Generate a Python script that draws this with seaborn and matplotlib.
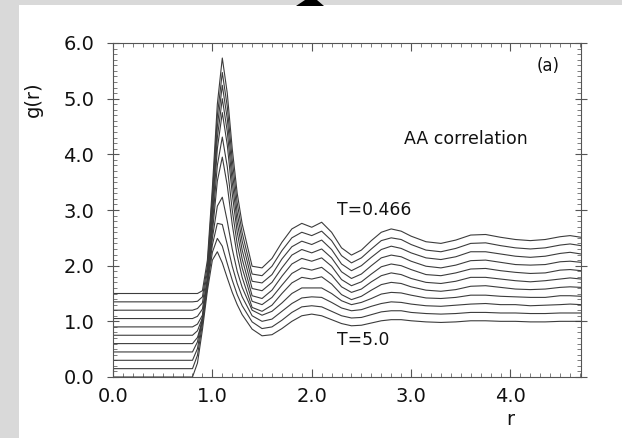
import numpy as np
import pandas as pd
import matplotlib
matplotlib.use("Agg")
import matplotlib.pyplot as plt
from matplotlib.patches import Rectangle, Polygon
from matplotlib.ticker import MultipleLocator
import seaborn as sns

# ---- data -------------------------------------------------------------
r = [0.0, 0.80, 0.85, 0.90, 0.95, 1.00, 1.05, 1.10, 1.15, 1.20, 1.25, 1.30,
     1.40, 1.50, 1.60, 1.70, 1.80, 1.90, 2.00, 2.10, 2.20, 2.30, 2.40, 2.50,
     2.60, 2.70, 2.80, 2.90, 3.00, 3.15, 3.30, 3.45, 3.60, 3.75, 3.90, 4.05,
     4.20, 4.35, 4.50, 4.60, 4.71]

temperatures = [5.0, 4.0, 3.0, 2.0, 1.0, 0.8, 0.6, 0.55, 0.5, 0.475, 0.466]
offsets = [0.0, 0.15, 0.30, 0.45, 0.60, 0.75, 0.90, 1.05, 1.20, 1.35, 1.50]

g_T5_0 = [0, 0.00, 0.25, 0.85, 1.55, 2.10, 2.25, 2.05, 1.78, 1.52, 1.30, 1.12,
          0.86, 0.74, 0.76, 0.87, 1.00, 1.10, 1.13, 1.10, 1.03, 0.96, 0.92, 0.93,
          0.97, 1.01, 1.03, 1.03, 1.01, 0.99, 0.98, 0.99, 1.01, 1.01, 1.00, 1.00,
          0.99, 0.99, 1.00, 1.00, 1.00]
g_T4_0 = [0, 0.00, 0.24, 0.80, 1.49, 2.09, 2.34, 2.20, 1.89, 1.59, 1.33, 1.13,
          0.84, 0.72, 0.75, 0.87, 1.01, 1.11, 1.13, 1.11, 1.03, 0.95, 0.91, 0.92,
          0.97, 1.02, 1.04, 1.04, 1.01, 0.99, 0.98, 0.99, 1.01, 1.01, 1.00, 1.00,
          0.99, 0.99, 1.00, 1.00, 1.00]
g_T3_0 = [0, 0.00, 0.21, 0.73, 1.41, 2.07, 2.46, 2.44, 2.08, 1.69, 1.38, 1.14,
          0.80, 0.70, 0.74, 0.88, 1.02, 1.12, 1.14, 1.13, 1.04, 0.94, 0.89, 0.91,
          0.97, 1.02, 1.05, 1.04, 1.01, 0.98, 0.97, 0.99, 1.01, 1.02, 1.00, 1.00,
          0.98, 0.99, 1.00, 1.01, 1.00]
g_T2_0 = [0, 0.00, 0.18, 0.62, 1.27, 2.04, 2.62, 2.78, 2.35, 1.85, 1.45, 1.16,
          0.75, 0.66, 0.73, 0.88, 1.05, 1.15, 1.15, 1.15, 1.05, 0.92, 0.85, 0.89,
          0.96, 1.04, 1.07, 1.06, 1.02, 0.97, 0.96, 0.98, 1.02, 1.02, 1.00, 0.99,
          0.98, 0.98, 1.01, 1.01, 1.00]
g_T1_0 = [0, 0.00, 0.11, 0.40, 1.02, 1.99, 2.92, 3.35, 2.84, 2.14, 1.58, 1.19,
          0.65, 0.58, 0.69, 0.90, 1.09, 1.19, 1.16, 1.20, 1.07, 0.88, 0.79, 0.85,
          0.96, 1.06, 1.10, 1.08, 1.02, 0.96, 0.94, 0.97, 1.03, 1.04, 1.01, 0.98,
          0.97, 0.98, 1.01, 1.02, 1.01]
g_T0_8 = [0, 0.00, 0.08, 0.31, 0.91, 1.97, 3.05, 3.56, 3.03, 2.25, 1.64, 1.21,
          0.61, 0.55, 0.68, 0.90, 1.11, 1.21, 1.17, 1.22, 1.08, 0.87, 0.77, 0.83,
          0.96, 1.07, 1.12, 1.09, 1.02, 0.95, 0.93, 0.97, 1.04, 1.04, 1.01, 0.98,
          0.96, 0.98, 1.01, 1.03, 1.01]
g_T0_6 = [0, 0.00, 0.05, 0.21, 0.79, 1.94, 3.20, 3.85, 3.27, 2.39, 1.70, 1.22,
          0.56, 0.51, 0.66, 0.91, 1.13, 1.23, 1.18, 1.24, 1.09, 0.85, 0.74, 0.81,
          0.95, 1.08, 1.13, 1.10, 1.03, 0.94, 0.92, 0.97, 1.04, 1.05, 1.01, 0.98,
          0.96, 0.97, 1.02, 1.03, 1.01]
g_T0_55 = [0, 0.00, 0.04, 0.17, 0.74, 1.93, 3.25, 3.95, 3.36, 2.45, 1.73, 1.23,
           0.54, 0.50, 0.65, 0.91, 1.14, 1.24, 1.18, 1.25, 1.09, 0.84, 0.72, 0.80,
           0.95, 1.09, 1.14, 1.11, 1.03, 0.94, 0.91, 0.96, 1.04, 1.05, 1.01, 0.97,
           0.96, 0.97, 1.02, 1.03, 1.01]
g_T0_5 = [0, 0.00, 0.03, 0.13, 0.70, 1.92, 3.30, 4.04, 3.44, 2.50, 1.75, 1.24,
          0.52, 0.49, 0.64, 0.92, 1.14, 1.24, 1.18, 1.26, 1.09, 0.83, 0.71, 0.80,
          0.95, 1.09, 1.15, 1.11, 1.03, 0.94, 0.91, 0.96, 1.05, 1.05, 1.01, 0.97,
          0.95, 0.97, 1.02, 1.04, 1.01]
g_T0_475 = [0, 0.00, 0.01, 0.09, 0.65, 1.91, 3.34, 4.12, 3.51, 2.55, 1.78, 1.24,
            0.50, 0.47, 0.64, 0.92, 1.15, 1.25, 1.19, 1.27, 1.10, 0.83, 0.70, 0.79,
            0.95, 1.10, 1.15, 1.12, 1.03, 0.93, 0.90, 0.96, 1.05, 1.06, 1.01, 0.97,
            0.95, 0.97, 1.02, 1.04, 1.01]
g_T0_466 = [0, 0.00, 0.00, 0.05, 0.60, 1.90, 3.40, 4.23, 3.60, 2.60, 1.80, 1.25,
            0.49, 0.46, 0.63, 0.92, 1.16, 1.26, 1.19, 1.28, 1.10, 0.82, 0.69, 0.78,
            0.95, 1.10, 1.16, 1.12, 1.03, 0.93, 0.90, 0.96, 1.05, 1.06, 1.01, 0.97,
            0.95, 0.97, 1.02, 1.04, 1.01]

curves = [g_T5_0, g_T4_0, g_T3_0, g_T2_0, g_T1_0, g_T0_8, g_T0_6, g_T0_55,
          g_T0_5, g_T0_475, g_T0_466]

x_ticks = [0.0, 1.0, 2.0, 3.0, 4.0]
x_ticklabels = ["0.0", "1.0", "2.0", "3.0", "4.0"]
y_ticks = [0.0, 1.0, 2.0, 3.0, 4.0, 5.0, 6.0]
y_ticklabels = ["0.0", "1.0", "2.0", "3.0", "4.0", "5.0", "6.0"]

rows = []
for T, off, g in zip(temperatures, offsets, curves):
    for rv, gv in zip(r, g):
        rows.append({"T": T, "r": rv, "y": gv + off})
df = pd.DataFrame(rows)

# ---- figure -----------------------------------------------------------
sns.set_style("ticks")
plt.rcParams["font.family"] = ["DejaVu Sans"]

fig = plt.figure(figsize=(6.22, 4.38), dpi=100)
fig.patch.set_facecolor("white")
ax = fig.add_axes([113 / 622, 1 - 377 / 438, 468 / 622, 334 / 438])

line_color = "#3c3c3c"
sns.lineplot(data=df, x="r", y="y", units="T", estimator=None, ax=ax,
             color=line_color, lw=0.8, legend=False)

ax.set_xlim(0, 4.71)
ax.set_ylim(0, 6.0)
ax.set_xticks(x_ticks)
ax.set_xticklabels(x_ticklabels)
ax.set_yticks(y_ticks)
ax.set_yticklabels(y_ticklabels)
ax.xaxis.set_minor_locator(MultipleLocator(0.1))
ax.yaxis.set_minor_locator(MultipleLocator(0.1))
ax.set_xlabel("")
ax.set_ylabel("")

for s in ax.spines.values():
    s.set_visible(True)
    s.set_color("#555555")
    s.set_linewidth(0.8)

ax.tick_params(axis="both", which="major", direction="in", length=6,
               width=0.8, color="#555555", top=True, right=True,
               labelsize=14, labelcolor="#111111")
ax.tick_params(axis="both", which="minor", direction="in", length=3,
               width=0.6, color="#666666", top=True, right=True)
ax.tick_params(axis="y", which="major", direction="inout", length=9, pad=9)
ax.tick_params(axis="x", which="major", pad=7)

# annotations
ax.text(4.26, 5.58, "(a)", fontsize=12, ha="left", va="center", color="#111111")
ax.text(2.93, 4.28, "AA correlation", fontsize=12.5, ha="left", va="center",
        color="#111111")
ax.text(2.25, 3.00, "T=0.466", fontsize=12.3, ha="left", va="center",
        color="#111111")
ax.text(2.25, 0.67, "T=5.0", fontsize=12.3, ha="left", va="center",
        color="#111111")

# axis titles placed as in the reference
fig.text(33 / 622, 1 - 99 / 438, "g(r)", rotation=90, fontsize=14,
         ha="center", va="center", color="#111111")
ax.text(4.0, -0.76, "r", fontsize=14, ha="center", va="center",
        color="#111111")

# scan borders (grey strips) and dark blob at top
fig.patches.append(Rectangle((0, 0), 19 / 622, 1, transform=fig.transFigure,
                             facecolor="#d9d9d9", edgecolor="none", zorder=-1))
fig.patches.append(Rectangle((0, 1 - 5 / 438), 1, 5 / 438,
                             transform=fig.transFigure,
                             facecolor="#d9d9d9", edgecolor="none", zorder=-1))
blob = [(296 / 622, 1 - 6 / 438), (324 / 622, 1 - 6 / 438),
        (317 / 622, 1.0), (305 / 622, 1.0)]
fig.patches.append(Polygon(blob, closed=True, transform=fig.transFigure,
                           facecolor="black", edgecolor="none"))

fig.savefig("out.png", dpi=100)
